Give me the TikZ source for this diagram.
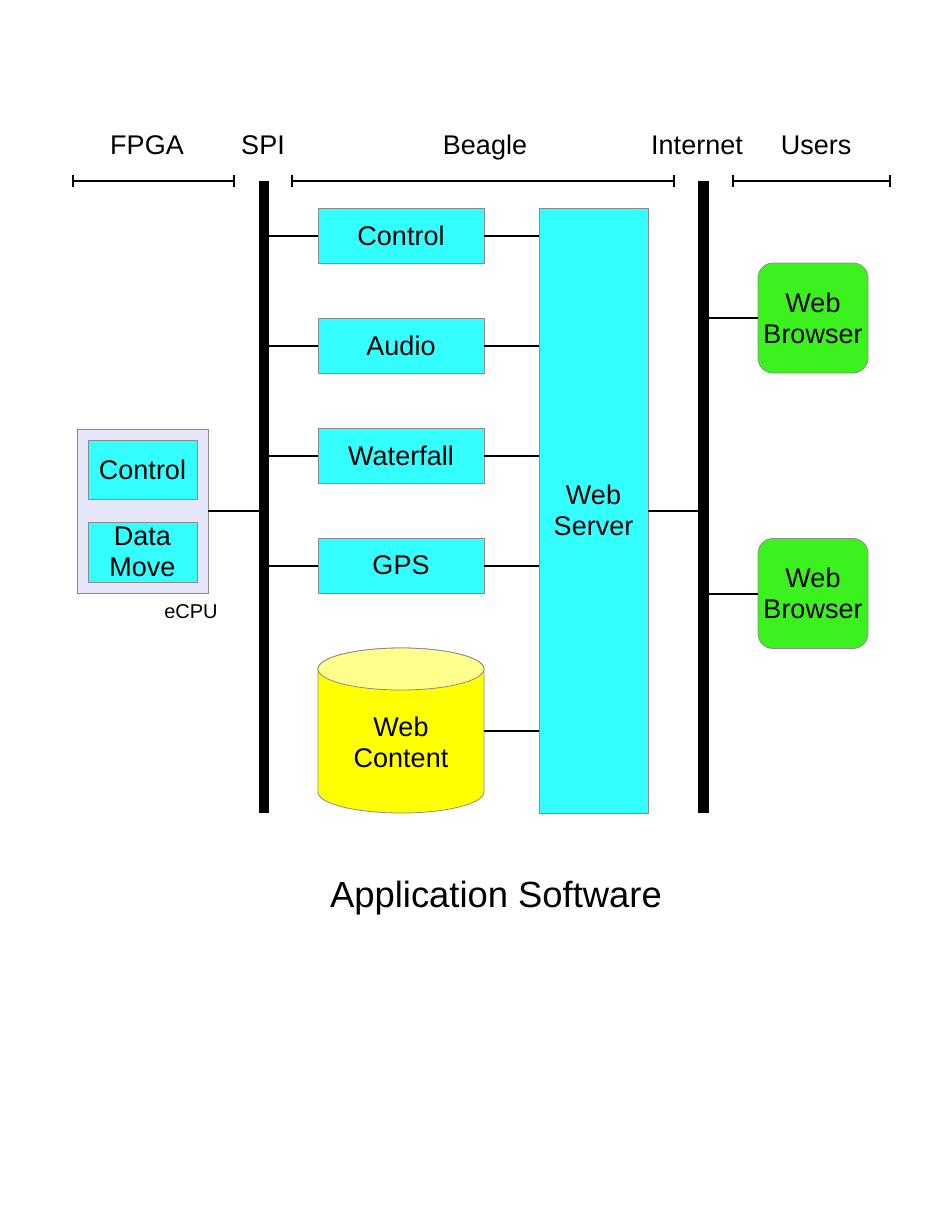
\documentclass[tikz,border=0pt]{standalone}
\usepackage{fontspec}
\setmainfont{Liberation Sans}
\usetikzlibrary{arrows.meta}
\definecolor{cyanc}{RGB}{51,255,255}
\definecolor{greenc}{RGB}{60,242,30}
\definecolor{lav}{RGB}{230,230,250}
\definecolor{yelc}{RGB}{255,255,0}
\definecolor{yeltop}{RGB}{255,255,140}
\definecolor{edge}{RGB}{140,140,140}
\begin{document}
\begin{tikzpicture}[x=1pt,y=-1pt,
  txt/.style={font=\fontsize{27}{31}\selectfont},
  box/.style={draw=edge, fill=cyanc, txt, align=center, inner sep=0pt, line width=0.8pt},
  browser/.style={draw=edge, fill=greenc, txt, align=center, inner sep=0pt, line width=0.8pt, rounded corners=15pt, minimum width=110pt, minimum height=110pt},
  bus/.style={fill=black, inner sep=0pt, minimum height=632pt},
  conn/.style={line width=2pt},
  brk/.style={line width=2pt, {Bar[width=12pt,line width=2pt]}-{Bar[width=12pt,line width=2pt]}},
  lbl/.style={txt, anchor=base}]
\useasboundingbox (0,0) rectangle (935,1210);
\fill[white] (0,0) rectangle (935,1210);

% header labels
\node[lbl] (lfpga) at (147,154) {FPGA};
\node[lbl] (lspi) at (263,154) {SPI};
\node[lbl] (lbeagle) at (485,154) {Beagle};
\node[lbl] (linet) at (697,154) {Internet};
\node[lbl] (lusers) at (816,154) {Users};

% brackets
\coordinate (b1a) at (72,181); \coordinate (b1b) at (235,181);
\coordinate (b2a) at (291,181); \coordinate (b2b) at (675,181);
\coordinate (b3a) at (732,181); \coordinate (b3b) at (891,181);
\draw[brk] (b1a) -- (b1b);
\draw[brk] (b2a) -- (b2b);
\draw[brk] (b3a) -- (b3b);

% buses
\node[bus, minimum width=10pt] (spi) at (264,497) {};
\node[bus, minimum width=11pt] (inet) at (703.5,497) {};

% beagle boxes
\node[box, minimum width=166pt, minimum height=55pt] (ctl) at (401,235.5) {Control};
\node[box, minimum width=166pt, minimum height=55pt] (aud) at (401,345.5) {Audio};
\node[box, minimum width=166pt, minimum height=55pt] (wf) at (401,455.5) {Waterfall};
\node[box, minimum width=166pt, minimum height=55pt] (gps) at (401,565.5) {GPS};
\node[box, minimum width=109pt, minimum height=605pt] (ws) at (593.5,510.5) {Web\\Server};

% web content cylinder
\path[fill=yelc, draw=edge, line width=0.8pt] (318,669) -- (318,792)
  arc[start angle=180, end angle=0, x radius=83, y radius=21] -- (484,669)
  arc[start angle=0, end angle=-180, x radius=83, y radius=21] -- cycle;
\draw[fill=yeltop, draw=edge, line width=0.8pt] (401,669) ellipse[x radius=83, y radius=21];
\node[minimum width=166pt, minimum height=165pt, inner sep=0pt] (wc) at (401,730.5) {};
\node[txt, align=center] (wct) at (401,742) {Web\\Content};

% eCPU
\node[draw=edge, fill=lav, line width=0.8pt, minimum width=131pt, minimum height=164pt, inner sep=0pt] (ecpu) at (142.5,511) {};
\node[box, minimum width=109pt, minimum height=59pt] (ictl) at (142.5,469.5) {Control};
\node[box, minimum width=109pt, minimum height=60pt] (dm) at (142.5,552) {Data\\Move};
\node[anchor=base, font=\fontsize{20}{24}\selectfont] (lecpu) at (191,618) {eCPU};

% browsers
\node[browser] (br1) at (813,318) {Web\\Browser};
\node[browser] (br2) at (813,593.5) {Web\\Browser};

% connectors
\foreach \n in {ctl,aud,wf,gps}{
  \draw[conn] (spi.east |- \n.west) -- (\n.west);
  \draw[conn] (\n.east) -- (\n.east -| ws.west);
}
\draw[conn] (wc.east) -- (wc.east -| ws.west);
\draw[conn] (ecpu.east) -- (ecpu.east -| spi.west);
\draw[conn] (ws.east) -- (ws.east -| inet.west);
\draw[conn] (inet.east |- br1.west) -- (br1.west);
\draw[conn] (inet.east |- br2.west) -- (br2.west);

% title
\node[anchor=base, font=\fontsize{36.4}{40}\selectfont] (title) at (496,907) {Application Software};
\end{tikzpicture}
\end{document}
